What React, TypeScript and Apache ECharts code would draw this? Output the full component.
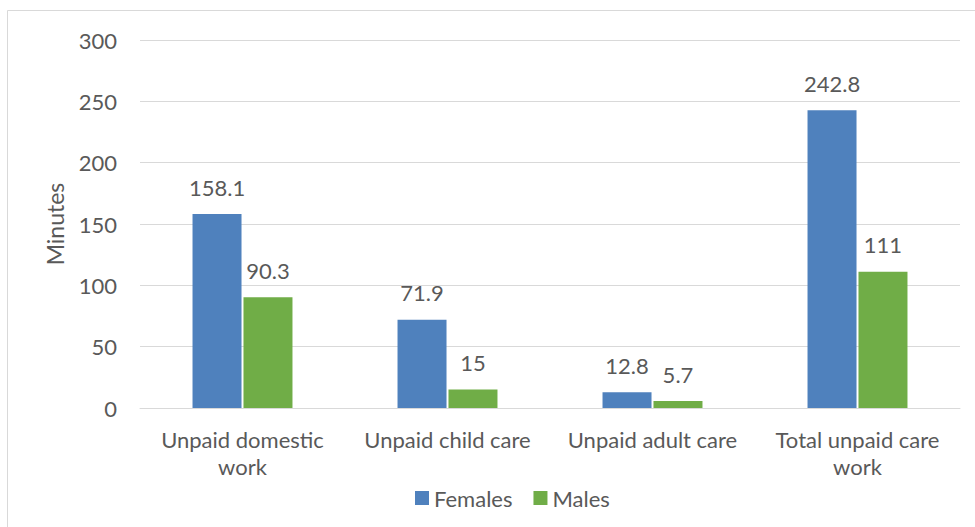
import React, { useEffect, useRef } from "react";
import * as echarts from "echarts";

const categories = [
  "Unpaid domestic\nwork",
  "Unpaid child care",
  "Unpaid adult care",
  "Total unpaid care\nwork",
];
const females = [158.1, 71.9, 12.8, 242.8];
const males = [90.3, 15, 5.7, 111];
const seriesNames = ["Females", "Males"];
const axisName = "Minutes";

const FONT = "Lato, 'Open Sans', sans-serif";
const TEXT = "#595959";
const SIZE = 22;

export default function App() {
  const ref = useRef<HTMLDivElement>(null);

  useEffect(() => {
    if (!ref.current) return;
    const chart = echarts.init(ref.current, undefined, { renderer: "svg" });
    const label = {
      show: true,
      position: "top" as const,
      distance: 16,
      color: TEXT,
      fontFamily: FONT,
      fontSize: SIZE,
    };
    chart.setOption({
      animation: false,
      backgroundColor: "#ffffff",
      textStyle: { fontFamily: FONT, color: TEXT },
      graphic: [
        {
          type: "rect",
          shape: { x: 7.5, y: 10.5, width: 1000, height: 600 },
          style: { fill: "none", stroke: "#d9d9d9", lineWidth: 1 },
          silent: true,
          z: 0,
        },
      ],
      grid: { left: 140, right: 15, top: 40, bottom: 119 },
      legend: {
        data: seriesNames,
        bottom: 13,
        left: 410,
        itemWidth: 14,
        itemHeight: 14,
        itemGap: 21,
        icon: "rect",
        textStyle: { color: TEXT, fontFamily: FONT, fontSize: SIZE },
      },
      xAxis: {
        type: "category",
        data: categories,
        axisLine: { lineStyle: { color: "#d9d9d9" } },
        axisTick: { show: false },
        axisLabel: {
          color: TEXT,
          fontFamily: FONT,
          fontSize: SIZE,
          margin: 18,
          lineHeight: 27,
          interval: 0,
        },
      },
      yAxis: {
        type: "value",
        min: 0,
        max: 300,
        interval: 50,
        name: axisName,
        nameLocation: "middle",
        nameGap: 74,
        nameTextStyle: { color: TEXT, fontFamily: FONT, fontSize: 23 },
        axisLine: { show: false },
        axisTick: { show: false },
        axisLabel: { color: TEXT, fontFamily: FONT, fontSize: SIZE, margin: 23 },
        splitLine: { lineStyle: { color: "#d9d9d9" } },
      },
      series: [
        {
          name: seriesNames[0],
          type: "bar",
          data: females,
          itemStyle: { color: "#4f81bd" },
          barWidth: 49,
          barGap: "4%",
          label,
        },
        {
          name: seriesNames[1],
          type: "bar",
          data: males,
          itemStyle: { color: "#70ad47" },
          barWidth: 49,
          label,
        },
      ],
    });
    return () => chart.dispose();
  }, []);

  return (
    <div
      ref={ref}
      style={{ position: "absolute", left: 0, top: 0, width: 975, height: 527 }}
    />
  );
}
